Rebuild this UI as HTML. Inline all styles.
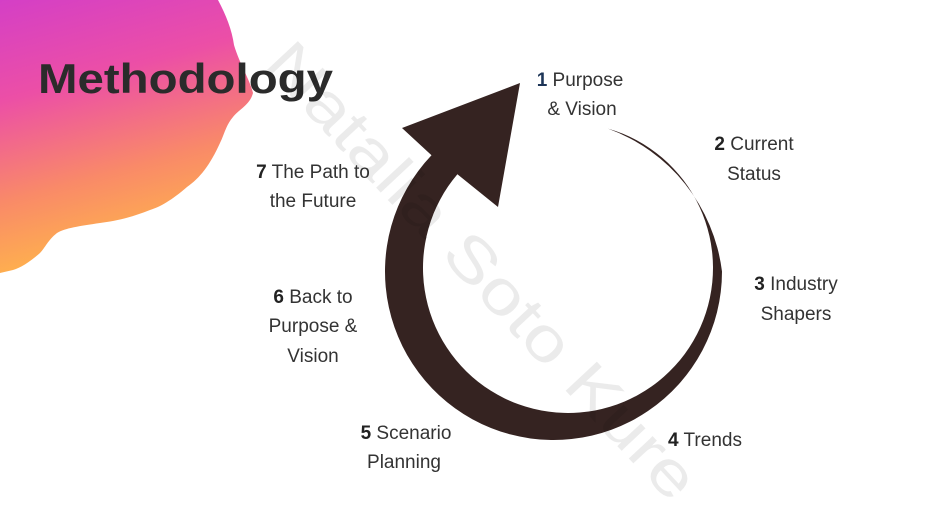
<!DOCTYPE html>
<html><head><meta charset="utf-8"><style>
html,body{margin:0;padding:0;background:#fff;}
svg{display:block;font-family:"Liberation Sans",sans-serif;}
</style></head><body>
<svg width="930" height="523" viewBox="0 0 930 523" xmlns="http://www.w3.org/2000/svg">
<defs>
<linearGradient id="g" x1="0" y1="0" x2="0.25" y2="1">
<stop offset="0" stop-color="#d43fc6"/>
<stop offset="0.35" stop-color="#ec4fa6"/>
<stop offset="0.7" stop-color="#f98a68"/>
<stop offset="1" stop-color="#ffb64a"/>
</linearGradient>
</defs>
<path d="M0,0 L218,0 C226,15 232,30 234,45 C240,65 250,80 253,93 C250,105 238,110 233,117 C226,125 224,135 220,143 C210,165 200,178 187,187 C172,200 160,207 150,210 C130,218 115,221 100,223 C80,226 65,228 57,233 C48,240 45,248 40,253 C30,262 20,268 13,270 L0,273 Z" fill="url(#g)"/>
<text x="38" y="93" font-size="42" font-weight="bold" fill="#2b2b2b" textLength="295" lengthAdjust="spacingAndGlyphs">Methodology</text>

<path d="M608,128.6 A175,175 0 0 1 722,271.5 A168.5,168.5 0 1 1 431.5,155.3 L402,128 L520,83 L498,207 L457.4,174.2 A145,145 0 1 0 608,128.6 Z" fill="#352321"/>

<g font-size="19" fill="#333" text-anchor="middle">
<text x="580" y="86"><tspan font-weight="bold" fill="#1d3557">1</tspan> Purpose</text>
<text x="582" y="115">&amp; Vision</text>
<text x="754" y="150"><tspan font-weight="bold" fill="#222">2</tspan> Current</text>
<text x="754" y="180">Status</text>
<text x="796" y="290"><tspan font-weight="bold" fill="#222">3</tspan> Industry</text>
<text x="796" y="320">Shapers</text>
<text x="705" y="446"><tspan font-weight="bold" fill="#222">4</tspan> Trends</text>
<text x="406" y="439"><tspan font-weight="bold" fill="#222">5</tspan> Scenario</text>
<text x="404" y="468">Planning</text>
<text x="313" y="303"><tspan font-weight="bold" fill="#222">6</tspan> Back to</text>
<text x="313" y="332">Purpose &amp;</text>
<text x="313" y="362">Vision</text>
<text x="313" y="178"><tspan font-weight="bold" fill="#222">7</tspan> The Path to</text>
<text x="313" y="207">the Future</text>
</g>

<text x="0" y="0" font-size="62" fill="#000" fill-opacity="0.08" text-anchor="middle" transform="translate(467,285) rotate(47)" textLength="600" lengthAdjust="spacingAndGlyphs">Natalia Soto Kure</text>
</svg>
</body></html>
